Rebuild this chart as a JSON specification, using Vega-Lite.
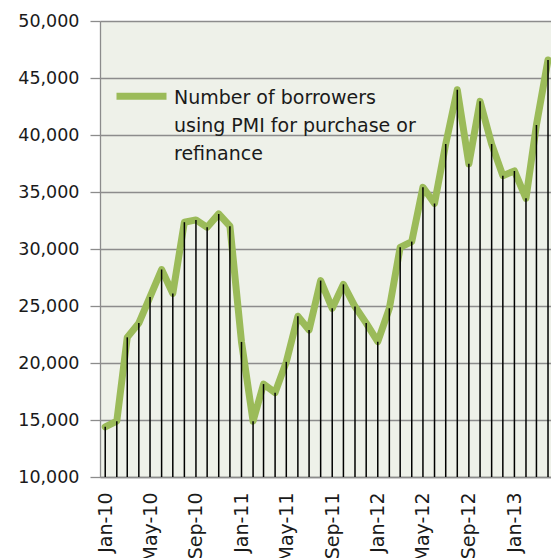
{
  "$schema": "https://vega.github.io/schema/vega-lite/v6.json",
  "autosize": {"type": "none"},
  "padding": {"left": 100, "top": 21, "right": 0, "bottom": 81},
  "width": 451,
  "height": 456,
  "background": "white",
  "config": {
    "view": {"fill": "#eef1e9", "stroke": null},
    "font": "DejaVu Sans",
    "style": {"guide-label": {"lineHeight": 28}}
  },
  "data": {
    "values": [
      {"month": "2010-01-01T00:00:00", "value": 14400, "series": "Number of borrowers|using PMI for purchase or|refinance"},
      {"month": "2010-02-01T00:00:00", "value": 14900, "series": "Number of borrowers|using PMI for purchase or|refinance"},
      {"month": "2010-03-01T00:00:00", "value": 22250, "series": "Number of borrowers|using PMI for purchase or|refinance"},
      {"month": "2010-04-01T00:00:00", "value": 23500, "series": "Number of borrowers|using PMI for purchase or|refinance"},
      {"month": "2010-05-01T00:00:00", "value": 25800, "series": "Number of borrowers|using PMI for purchase or|refinance"},
      {"month": "2010-06-01T00:00:00", "value": 28200, "series": "Number of borrowers|using PMI for purchase or|refinance"},
      {"month": "2010-07-01T00:00:00", "value": 26100, "series": "Number of borrowers|using PMI for purchase or|refinance"},
      {"month": "2010-08-01T00:00:00", "value": 32350, "series": "Number of borrowers|using PMI for purchase or|refinance"},
      {"month": "2010-09-01T00:00:00", "value": 32550, "series": "Number of borrowers|using PMI for purchase or|refinance"},
      {"month": "2010-10-01T00:00:00", "value": 31900, "series": "Number of borrowers|using PMI for purchase or|refinance"},
      {"month": "2010-11-01T00:00:00", "value": 33080, "series": "Number of borrowers|using PMI for purchase or|refinance"},
      {"month": "2010-12-01T00:00:00", "value": 32000, "series": "Number of borrowers|using PMI for purchase or|refinance"},
      {"month": "2011-01-01T00:00:00", "value": 21850, "series": "Number of borrowers|using PMI for purchase or|refinance"},
      {"month": "2011-02-01T00:00:00", "value": 14900, "series": "Number of borrowers|using PMI for purchase or|refinance"},
      {"month": "2011-03-01T00:00:00", "value": 18150, "series": "Number of borrowers|using PMI for purchase or|refinance"},
      {"month": "2011-04-01T00:00:00", "value": 17400, "series": "Number of borrowers|using PMI for purchase or|refinance"},
      {"month": "2011-05-01T00:00:00", "value": 20100, "series": "Number of borrowers|using PMI for purchase or|refinance"},
      {"month": "2011-06-01T00:00:00", "value": 24100, "series": "Number of borrowers|using PMI for purchase or|refinance"},
      {"month": "2011-07-01T00:00:00", "value": 22900, "series": "Number of borrowers|using PMI for purchase or|refinance"},
      {"month": "2011-08-01T00:00:00", "value": 27230, "series": "Number of borrowers|using PMI for purchase or|refinance"},
      {"month": "2011-09-01T00:00:00", "value": 24800, "series": "Number of borrowers|using PMI for purchase or|refinance"},
      {"month": "2011-10-01T00:00:00", "value": 26900, "series": "Number of borrowers|using PMI for purchase or|refinance"},
      {"month": "2011-11-01T00:00:00", "value": 24950, "series": "Number of borrowers|using PMI for purchase or|refinance"},
      {"month": "2011-12-01T00:00:00", "value": 23500, "series": "Number of borrowers|using PMI for purchase or|refinance"},
      {"month": "2012-01-01T00:00:00", "value": 21870, "series": "Number of borrowers|using PMI for purchase or|refinance"},
      {"month": "2012-02-01T00:00:00", "value": 24800, "series": "Number of borrowers|using PMI for purchase or|refinance"},
      {"month": "2012-03-01T00:00:00", "value": 30150, "series": "Number of borrowers|using PMI for purchase or|refinance"},
      {"month": "2012-04-01T00:00:00", "value": 30650, "series": "Number of borrowers|using PMI for purchase or|refinance"},
      {"month": "2012-05-01T00:00:00", "value": 35410, "series": "Number of borrowers|using PMI for purchase or|refinance"},
      {"month": "2012-06-01T00:00:00", "value": 34000, "series": "Number of borrowers|using PMI for purchase or|refinance"},
      {"month": "2012-07-01T00:00:00", "value": 39200, "series": "Number of borrowers|using PMI for purchase or|refinance"},
      {"month": "2012-08-01T00:00:00", "value": 43970, "series": "Number of borrowers|using PMI for purchase or|refinance"},
      {"month": "2012-09-01T00:00:00", "value": 37470, "series": "Number of borrowers|using PMI for purchase or|refinance"},
      {"month": "2012-10-01T00:00:00", "value": 42950, "series": "Number of borrowers|using PMI for purchase or|refinance"},
      {"month": "2012-11-01T00:00:00", "value": 39200, "series": "Number of borrowers|using PMI for purchase or|refinance"},
      {"month": "2012-12-01T00:00:00", "value": 36430, "series": "Number of borrowers|using PMI for purchase or|refinance"},
      {"month": "2013-01-01T00:00:00", "value": 36850, "series": "Number of borrowers|using PMI for purchase or|refinance"},
      {"month": "2013-02-01T00:00:00", "value": 34450, "series": "Number of borrowers|using PMI for purchase or|refinance"},
      {"month": "2013-03-01T00:00:00", "value": 40880, "series": "Number of borrowers|using PMI for purchase or|refinance"},
      {"month": "2013-04-01T00:00:00", "value": 46580, "series": "Number of borrowers|using PMI for purchase or|refinance"}
    ]
  },
  "encoding": {
    "x": {
      "field": "month",
      "type": "temporal",
      "scale": {"domain": [{"year": 2009, "month": 12, "date": 18}, {"year": 2013, "month": 4, "date": 9}]},
      "axis": {
        "title": null,
        "format": "%b-%y",
        "tickCount": {"interval": "month", "step": 4},
        "labelAngle": 270,
        "labelAlign": "right",
        "labelBaseline": "middle",
        "labelPadding": 15,
        "labelFontSize": 19,
        "labelColor": "#1a1a1a",
        "labelOverlap": false,
        "labelFlush": false,
        "ticks": false,
        "grid": false,
        "domain": true,
        "domainColor": "#8c8c8c",
        "domainWidth": 1.3
      }
    },
    "y": {
      "field": "value",
      "type": "quantitative",
      "scale": {"domain": [10000, 50000], "nice": false, "zero": false},
      "axis": {
        "title": null,
        "values": [10000, 15000, 20000, 25000, 30000, 35000, 40000, 45000, 50000],
        "format": ",.0f",
        "labelFontSize": 17.5,
        "labelColor": "#1a1a1a",
        "labelPadding": 11,
        "tickSize": 10,
        "tickColor": "#8c8c8c",
        "tickWidth": 1.3,
        "domainColor": "#8c8c8c",
        "domainWidth": 1.3,
        "grid": true,
        "gridColor": "#8c8c8c",
        "gridWidth": 1.3
      }
    }
  },
  "layer": [
    {
      "mark": {"type": "line", "strokeWidth": 7, "strokeCap": "round", "strokeJoin": "round"},
      "encoding": {
        "color": {
          "field": "series",
          "type": "nominal",
          "scale": {"range": ["#9bbb59"]},
          "legend": {
            "title": null,
            "orient": "none",
            "legendX": 13,
            "legendY": 39,
            "padding": 0,
            "symbolType": "M-1,0.31L1,0.31",
            "symbolSize": 2500,
            "symbolStrokeWidth": 7,
            "symbolStrokeColor": "#9bbb59",
            "labelExpr": "split(datum.label, '|')",
            "labelBaseline": "top",
            "labelFontSize": 19,
            "labelLimit": 500,
            "labelOffset": 4,
            "labelColor": "#1a1a1a"
          }
        }
      }
    },
    {
      "mark": {"type": "rule", "color": "#000000", "strokeWidth": 1.5},
      "encoding": {
        "y2": {"datum": 10000}
      }
    }
  ]
}
